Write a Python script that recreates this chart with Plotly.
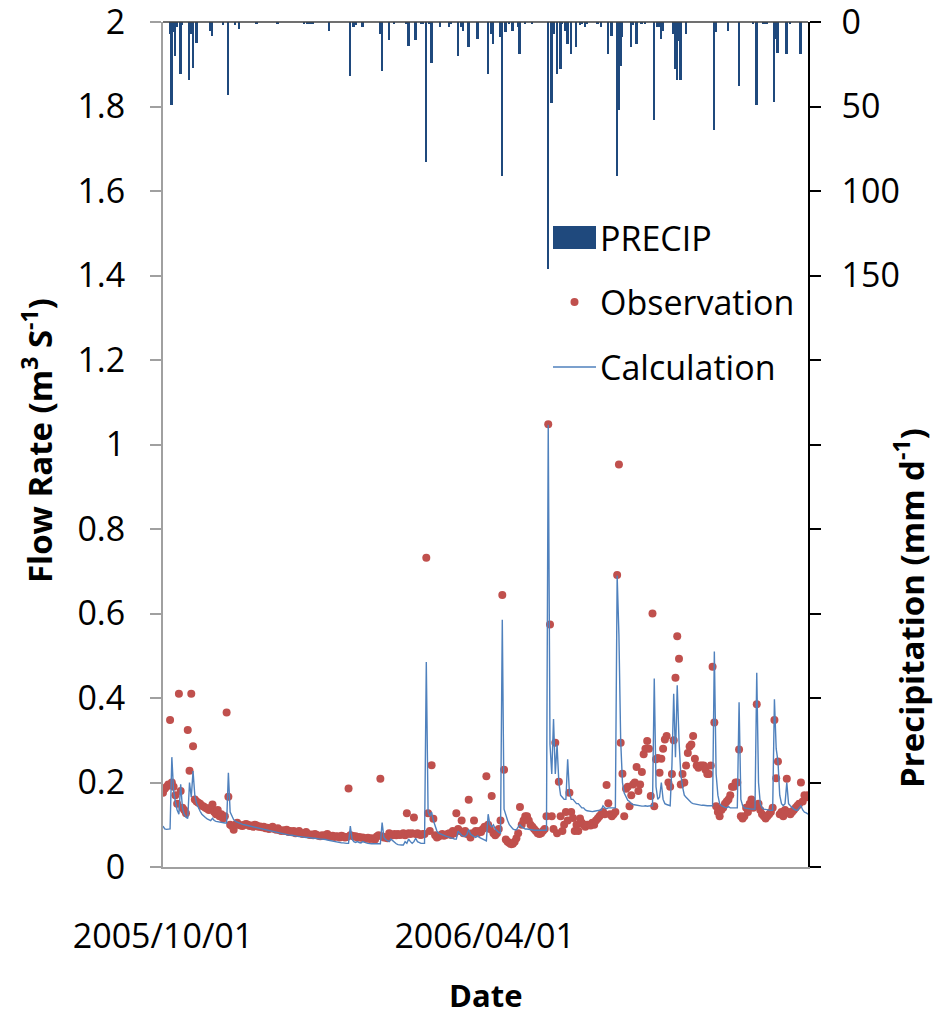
import pandas as pd
import plotly.graph_objects as go

start_date = "2005-10-01"
n_days = 366

# Calculated daily flow (m3/s), day 0 = 2005-10-01
calc = [
    0.097, 0.090, 0.089, 0.090, 0.090, 0.260, 0.180, 0.155, 0.135, 0.125,
    0.196, 0.140, 0.125, 0.118, 0.115, 0.200, 0.165, 0.227, 0.170, 0.150,
    0.140, 0.132, 0.125, 0.120, 0.117, 0.114, 0.112, 0.110, 0.115, 0.110,
    0.108, 0.107, 0.106, 0.105, 0.105, 0.104, 0.104, 0.223, 0.130, 0.120,
    0.112, 0.108, 0.106, 0.105, 0.103, 0.101, 0.100, 0.099, 0.098, 0.097,
    0.096, 0.095, 0.094, 0.093, 0.092, 0.091, 0.090, 0.089, 0.088, 0.087,
    0.086, 0.085, 0.084, 0.083, 0.082, 0.081, 0.080, 0.080, 0.079, 0.078,
    0.077, 0.076, 0.075, 0.075, 0.074, 0.073, 0.073, 0.072, 0.072, 0.071,
    0.071, 0.070, 0.070, 0.069, 0.069, 0.068, 0.068, 0.067, 0.067, 0.066,
    0.066, 0.066, 0.065, 0.064, 0.063, 0.062, 0.061, 0.060, 0.059, 0.058,
    0.058, 0.057, 0.057, 0.056, 0.056, 0.056, 0.097, 0.066, 0.060, 0.058,
    0.060, 0.058, 0.057, 0.060, 0.058, 0.057, 0.056, 0.055, 0.055, 0.055,
    0.055, 0.055, 0.055, 0.055, 0.105, 0.070, 0.065, 0.062, 0.060, 0.066,
    0.062, 0.058, 0.055, 0.053, 0.052, 0.052, 0.052, 0.060, 0.056, 0.066,
    0.060, 0.056, 0.060, 0.068, 0.060, 0.057, 0.056, 0.056, 0.056, 0.485,
    0.130, 0.120, 0.130, 0.110, 0.095, 0.085, 0.080, 0.078, 0.076, 0.075,
    0.073, 0.072, 0.070, 0.069, 0.068, 0.066, 0.066, 0.085, 0.080, 0.075,
    0.073, 0.072, 0.077, 0.089, 0.078, 0.074, 0.072, 0.070, 0.074, 0.070,
    0.068, 0.066, 0.064, 0.062, 0.125, 0.100, 0.095, 0.100, 0.090, 0.085,
    0.082, 0.080, 0.585, 0.137, 0.120, 0.110, 0.100, 0.095, 0.090, 0.088,
    0.088, 0.095, 0.100, 0.095, 0.092, 0.090, 0.090, 0.089, 0.088, 0.088,
    0.087, 0.087, 0.087, 0.087, 0.087, 0.087, 0.087, 0.087, 1.047, 0.290,
    0.220, 0.350, 0.220, 0.290, 0.200, 0.170, 0.165, 0.160, 0.160, 0.255,
    0.175, 0.160, 0.160, 0.155, 0.150, 0.150, 0.145, 0.140, 0.140, 0.135,
    0.133, 0.132, 0.132, 0.131, 0.132, 0.133, 0.133, 0.134, 0.135, 0.145,
    0.140, 0.138, 0.140, 0.140, 0.140, 0.140, 0.140, 0.690, 0.550, 0.300,
    0.200, 0.175, 0.165, 0.158, 0.155, 0.150, 0.148, 0.147, 0.146, 0.145,
    0.145, 0.144, 0.144, 0.145, 0.144, 0.145, 0.145, 0.145, 0.446, 0.190,
    0.160, 0.165, 0.200, 0.160, 0.150, 0.148, 0.147, 0.145, 0.240, 0.410,
    0.260, 0.430, 0.300, 0.220, 0.190, 0.170, 0.165, 0.160, 0.155, 0.152,
    0.150, 0.149, 0.148, 0.147, 0.147, 0.146, 0.146, 0.145, 0.145, 0.145,
    0.145, 0.145, 0.510, 0.220, 0.170, 0.150, 0.145, 0.142, 0.141, 0.140,
    0.143, 0.140, 0.140, 0.140, 0.140, 0.140, 0.390, 0.160, 0.145, 0.140,
    0.139, 0.138, 0.137, 0.137, 0.137, 0.137, 0.460, 0.200, 0.150, 0.140,
    0.137, 0.136, 0.135, 0.134, 0.134, 0.134, 0.397, 0.280, 0.250, 0.170,
    0.150, 0.145, 0.150, 0.200, 0.150, 0.145, 0.140, 0.137, 0.135, 0.134,
    0.140, 0.145, 0.135, 0.130, 0.128, 0.125,
]

# Observed daily flow (m3/s)
obs = [
    0.176, 0.185, 0.190, 0.195, 0.348, 0.200, 0.190, 0.170, 0.150, 0.410,
    0.180, 0.140, 0.135, 0.127, 0.324, 0.228, 0.410, 0.286, 0.160, 0.155,
    0.152, 0.150, 0.145, 0.143, 0.140, 0.138, 0.135, 0.140, 0.148, 0.130,
    0.125, 0.135, 0.120, 0.125, 0.115, 0.120, 0.366, 0.166, 0.100, 0.097,
    0.088, 0.100, 0.105, 0.100, 0.098, 0.097, 0.100, 0.102, 0.100, 0.097,
    0.098, 0.095, 0.100, 0.098, 0.095, 0.096, 0.094, 0.095, 0.092, 0.093,
    0.090, 0.092, 0.095, 0.090, 0.088, 0.092, 0.087, 0.085, 0.087, 0.085,
    0.088, 0.083, 0.085, 0.082, 0.085, 0.080, 0.082, 0.085, 0.080, 0.078,
    0.080, 0.083, 0.078, 0.076, 0.077, 0.075, 0.078, 0.076, 0.074, 0.073,
    0.075, 0.074, 0.075, 0.078, 0.073, 0.072, 0.074, 0.071, 0.073, 0.072,
    0.070, 0.074, 0.072, 0.070, 0.071, 0.186, 0.075, 0.074, 0.072, 0.073,
    0.070, 0.071, 0.069, 0.070, 0.068, 0.067, 0.069, 0.066, 0.068, 0.067,
    0.065, 0.072, 0.075, 0.209, 0.073, 0.070, 0.070, 0.068, 0.080, 0.077,
    0.075, 0.078, 0.075, 0.078, 0.076, 0.077, 0.080, 0.075, 0.127, 0.080,
    0.078, 0.080, 0.117, 0.078, 0.080, 0.077, 0.076, 0.078, 0.078, 0.732,
    0.127, 0.085, 0.241, 0.114, 0.075, 0.070, 0.072, 0.075, 0.078, 0.074,
    0.076, 0.078, 0.080, 0.076, 0.085, 0.080, 0.127, 0.090, 0.085, 0.110,
    0.080, 0.085, 0.078, 0.159, 0.070, 0.080, 0.110, 0.085, 0.080, 0.085,
    0.083, 0.090, 0.095, 0.215, 0.100, 0.090, 0.168, 0.080, 0.075, 0.080,
    0.090, 0.110, 0.644, 0.230, 0.065, 0.060, 0.057, 0.054, 0.055, 0.060,
    0.068, 0.080, 0.142, 0.100, 0.110, 0.120, 0.120, 0.110, 0.100, 0.095,
    0.090, 0.085, 0.080, 0.078, 0.080, 0.085, 0.090, 0.120, 1.048, 0.574,
    0.120, 0.090, 0.294, 0.080, 0.202, 0.120, 0.085, 0.100, 0.130, 0.110,
    0.176, 0.130, 0.116, 0.085, 0.100, 0.085, 0.115, 0.105, 0.100, 0.095,
    0.100, 0.100, 0.098, 0.105, 0.100, 0.110, 0.115, 0.120, 0.125, 0.130,
    0.125, 0.194, 0.151, 0.125, 0.120, 0.125, 0.130, 0.691, 0.953, 0.294,
    0.221, 0.120, 0.185, 0.190, 0.144, 0.170, 0.195, 0.200, 0.237, 0.180,
    0.195, 0.225, 0.267, 0.280, 0.298, 0.280, 0.168, 0.600, 0.144, 0.255,
    0.258, 0.223, 0.256, 0.280, 0.302, 0.310, 0.200, 0.190, 0.220, 0.300,
    0.448, 0.546, 0.493, 0.195, 0.220, 0.200, 0.240, 0.270, 0.285, 0.290,
    0.310, 0.256, 0.240, 0.235, 0.240, 0.240, 0.240, 0.230, 0.220, 0.220,
    0.240, 0.474, 0.342, 0.144, 0.130, 0.120, 0.135, 0.140, 0.150, 0.155,
    0.160, 0.170, 0.190, 0.190, 0.200, 0.200, 0.278, 0.120, 0.115, 0.120,
    0.140, 0.130, 0.150, 0.160, 0.140, 0.145, 0.385, 0.150, 0.135, 0.125,
    0.120, 0.115, 0.120, 0.125, 0.130, 0.140, 0.348, 0.210, 0.250, 0.125,
    0.130, 0.120, 0.135, 0.209, 0.130, 0.125, 0.130, 0.135, 0.140, 0.145,
    0.150, 0.200, 0.155, 0.170, 0.165, 0.170,
]

# Precipitation (mm/d): rain days (offset from start) and amounts
rain_day = [4, 5, 6, 7, 8, 10, 11, 15, 16, 17, 19, 27, 28, 34, 37, 41, 43, 53, 65,
            80, 82, 83, 84, 85, 94, 106, 108, 109, 113, 123, 124, 128, 131, 138,
            139, 143, 146, 147, 149, 151, 152, 157, 162, 163, 167, 169, 170, 173,
            178, 184, 186, 187, 191, 192, 194, 196, 198, 201, 202, 205, 209, 218,
            220, 221, 223, 225, 226, 228, 229, 231, 234, 236, 237, 239, 240, 246,
            248, 252, 254, 257, 258, 259, 260, 265, 266, 268, 271, 273, 278, 280,
            281, 282, 283, 289, 290, 291, 292, 293, 296, 312, 313, 320, 326, 334,
            336, 340, 341, 342, 346, 347, 348, 353, 355, 361]
rain_mm = [7, 49, 6, 20, 3, 31, 1.5, 34, 7, 27, 12.5, 5, 8, 1.5, 43, 2, 4, 1, 1,
           1, 1, 1, 1, 1, 5, 32, 3, 2, 3, 7, 29, 10.6, 1, 1,
           14, 10.6, 1, 1, 83, 1, 24, 3, 3, 1, 20, 3, 5, 15,
           10, 31, 7, 13, 9, 91, 6, 1, 5, 3, 19, 1, 1, 146,
           48, 7, 31, 28, 1, 5, 13, 19, 15, 2, 1, 3, 1, 1,
           3, 19, 8, 91, 52, 26, 9, 15, 2, 13, 1, 1, 58, 3,
           3, 10, 5, 7, 28, 34, 11, 34, 7, 64, 6, 5, 38, 1,
           49, 1, 1, 1, 47, 10, 18, 19, 1, 19]

x_tick_vals = ["2005-10-01", "2006-04-01"]
x_tick_text = ["2005/10/01", "2006/04/01"]
q_tick_vals = [0, 0.2, 0.4, 0.6, 0.8, 1.0, 1.2, 1.4, 1.6, 1.8, 2.0]
q_tick_text = ["0", "0.2", "0.4", "0.6", "0.8", "1", "1.2", "1.4", "1.6", "1.8", "2"]
p_tick_vals = [0, 50, 100, 150, 200, 250, 300, 350, 400, 450, 500]
p_tick_text = ["0", "50", "100", "150", "", "", "", "", "", "", ""]

dates = pd.date_range(start_date, periods=n_days, freq="D")
rain_dates = [dates[d] for d in rain_day]

FONT = "Open Sans"
DAY_MS = 86400000
TICK_SIZE = 34

fig = go.Figure()
fig.add_trace(go.Bar(x=rain_dates, y=rain_mm, yaxis="y2", name="PRECIP",
                     marker=dict(color="#1F497D", line=dict(width=0)),
                     width=DAY_MS * 1.1, showlegend=False))
fig.add_trace(go.Scatter(x=dates, y=obs, mode="markers", name="Observation",
                         marker=dict(color="#C0504D", size=8), showlegend=False))
fig.add_trace(go.Scatter(x=dates, y=calc, mode="lines", name="Calculation",
                         line=dict(color="#4F81BD", width=1.4), showlegend=False))

fig.update_layout(
    width=933, height=1012,
    margin=dict(l=163, r=125, t=22, b=145, autoexpand=False),
    paper_bgcolor="white", plot_bgcolor="white",
    font=dict(family=FONT, size=TICK_SIZE, color="black"),
    bargap=0,
    xaxis=dict(type="date", range=["2005-10-01", "2006-10-01"],
               tickvals=x_tick_vals, ticktext=x_tick_text, ticks="",
               showline=True, linecolor="#A0A0A0", linewidth=2,
               showgrid=False, zeroline=False, ticklabelstandoff=38,
               automargin=False, ticklabeloverflow="allow",
               tickfont=dict(size=TICK_SIZE)),
    yaxis=dict(range=[0, 2.0002], tickvals=q_tick_vals, ticktext=q_tick_text,
               ticks="outside", ticklen=11,
               tickcolor="#A0A0A0", tickwidth=1.5,
               showline=True, linecolor="#A0A0A0", linewidth=2,
               showgrid=False, zeroline=False, ticklabelstandoff=18,
               automargin=False, ticklabeloverflow="allow",
               tickfont=dict(size=TICK_SIZE)),
    yaxis2=dict(overlaying="y", side="right", range=[500, -0.05],
                tickvals=p_tick_vals, ticktext=p_tick_text,
                ticks="outside", ticklen=11, tickcolor="black", tickwidth=1.5,
                showline=True, linecolor="black", linewidth=1.5,
                showgrid=False, zeroline=False, ticklabelstandoff=14,
                automargin=False, ticklabeloverflow="allow",
                tickfont=dict(size=TICK_SIZE)),
    showlegend=False,
)

# top frame line
fig.add_shape(type="line", xref="paper", yref="paper", x0=0, x1=1, y0=1, y1=1,
              line=dict(color="#404040", width=1.5), layer="above")

# axis titles
TITLE_SIZE = 33
fig.add_annotation(text="<b>Flow Rate (m<sup>3</sup> S<sup>-1</sup>)</b>", textangle=-90,
                   xref="paper", yref="paper", x=(38 - 163) / 645, y=(867 - 440) / 845,
                   xanchor="center", yanchor="middle",
                   showarrow=False, font=dict(size=TITLE_SIZE))
fig.add_annotation(text="<b>Precipitation (mm d<sup>-1</sup>)</b>", textangle=-90,
                   xref="paper", yref="paper", x=(909 - 163) / 645, y=(867 - 608) / 845,
                   xanchor="center", yanchor="middle",
                   showarrow=False, font=dict(size=TITLE_SIZE))
fig.add_annotation(text="<b>Date</b>", xref="paper", yref="paper",
                   x=(485 - 163) / 645, y=(867 - 995) / 845,
                   xanchor="center", yanchor="middle",
                   showarrow=False, font=dict(size=31))

# legend (drawn manually to mimic the original's large swatches)
lx0, lx1 = (553 - 163) / 645, (596 - 163) / 645
tx = (598 - 163) / 645
ys = [(867 - 238) / 845, (867 - 302) / 845, (867 - 367) / 845]
fig.add_shape(type="rect", xref="paper", yref="paper", x0=lx0, x1=lx1,
              y0=(867 - 249) / 845, y1=(867 - 226) / 845,
              fillcolor="#1F497D", line=dict(width=0))
fig.add_shape(type="circle", xref="paper", yref="paper",
              xsizemode="pixel", ysizemode="pixel",
              xanchor=(lx0 + lx1) / 2, yanchor=ys[1],
              x0=-4, x1=4, y0=-4, y1=4,
              fillcolor="#C0504D", line=dict(width=0))
fig.add_shape(type="line", xref="paper", yref="paper", x0=lx0, x1=lx1,
              y0=ys[2], y1=ys[2], line=dict(color="#4F81BD", width=1.4))
for label, yy in zip(["PRECIP", "Observation", "Calculation"], ys):
    fig.add_annotation(text=label, xref="paper", yref="paper", x=tx, y=yy,
                       xanchor="left", yanchor="middle", showarrow=False,
                       font=dict(size=34))

fig.write_html("out.html",
               config={"displayModeBar": False},
               post_script="document.body.style.margin='0px';")
